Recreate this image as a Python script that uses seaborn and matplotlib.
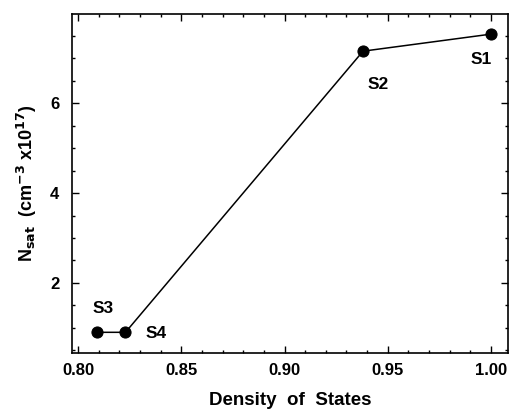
import pandas as pd
import numpy as np
import matplotlib.pyplot as plt
import seaborn as sns
from matplotlib.ticker import MultipleLocator

sns.set_theme(style="ticks")
plt.rcParams['font.family'] = ['Liberation Sans', 'DejaVu Sans']
plt.rcParams['font.weight'] = 'bold'
plt.rcParams['text.color'] = 'black'
plt.rcParams['axes.labelcolor'] = 'black'

# sample data
samples = ['S3', 'S4', 'S2', 'S1']
dos = [0.809, 0.823, 0.938, 1.000]
nsat = [0.90, 0.90, 7.16, 7.54]

df = pd.DataFrame({'sample': samples, 'dos': dos, 'nsat': nsat})

fig = plt.figure(figsize=(5.12, 4.09), dpi=100)
ax = fig.add_axes([0.1406, 0.137, 0.8516, 0.829])

sns.lineplot(data=df, x='dos', y='nsat', sort=False, color='black',
             linewidth=1.1, marker='o', markersize=8, markeredgecolor='black',
             markerfacecolor='black', ax=ax)

# label offsets in points
offsets = {'S3': (5, 17), 'S4': (22, -1), 'S2': (11, -24), 'S1': (-7, -18)}
for s, x, y in zip(samples, dos, nsat):
    dx, dy = offsets[s]
    ax.annotate(s, (x, y), xytext=(dx, dy), textcoords='offset points',
                ha='center', va='center', fontsize=12.5, fontweight='bold')

ax.set_xlim(0.7971, 1.0082)
ax.set_ylim(0.44, 7.99)
ax.xaxis.set_major_locator(MultipleLocator(0.05))
ax.xaxis.set_minor_locator(MultipleLocator(0.01))
ax.yaxis.set_major_locator(MultipleLocator(2))
ax.yaxis.set_minor_locator(MultipleLocator(0.5))
ax.tick_params(which='both', direction='in', top=True, right=True,
               labelsize=12, width=1, color='black', labelcolor='black')
ax.tick_params(which='major', length=5)
ax.tick_params(which='minor', length=2.5)
ax.tick_params(axis='x', which='major', pad=7)
ax.tick_params(axis='y', which='major', pad=9)
ax.xaxis.set_major_formatter(plt.FuncFormatter(lambda v, p: f"{v:.2f}"))
ax.yaxis.set_major_formatter(plt.FuncFormatter(lambda v, p: f"{v:.0f}"))

for sp in ax.spines.values():
    sp.set_linewidth(1.2)
    sp.set_color('black')

ax.set_xlabel('Density  of  States', fontsize=13.5, fontweight='bold', labelpad=10)
ax.set_ylabel(r'N$_{\mathbf{sat}}$  (cm$^{\mathbf{-3}}$ x10$^{\mathbf{17}}$)',
              fontsize=13, fontweight='bold', labelpad=8)

plt.savefig('out.png', dpi=100)
